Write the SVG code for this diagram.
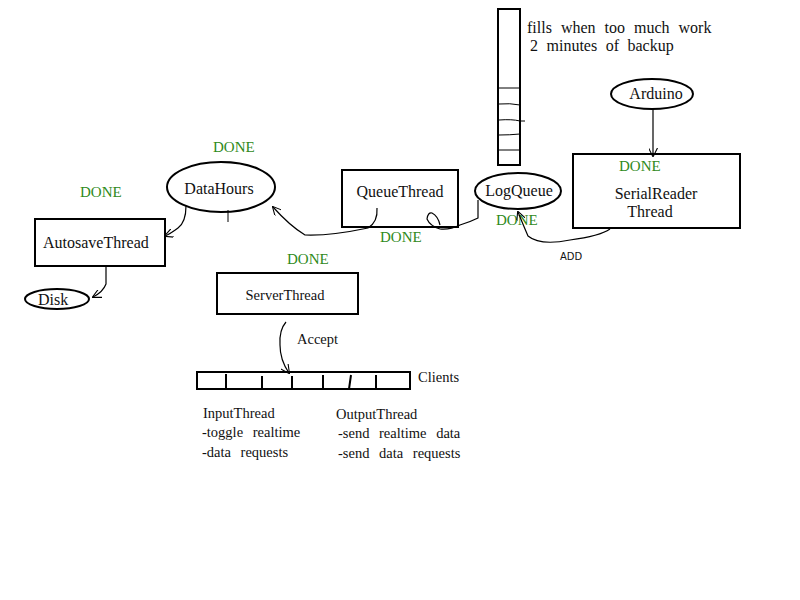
<svg xmlns="http://www.w3.org/2000/svg" width="800" height="600" viewBox="0 0 800 600" font-family="'Liberation Serif', 'DejaVu Serif', serif">
<defs>
<style>
text{font-family:'Liberation Serif','DejaVu Serif',serif;fill:#111;}
.t{font-size:16px;}
.s{font-size:14.5px;}
.done{font-size:15px;fill:#2f8a1a;}
.box{fill:#fff;stroke:#000;stroke-width:2;}
.ln{fill:none;stroke:#000;stroke-width:1.2;}
.thin{fill:none;stroke:#000;stroke-width:1;}
</style>
<marker id="ah" viewBox="0 0 10 10" refX="9" refY="5" markerWidth="9" markerHeight="9" orient="auto-start-reverse" markerUnits="userSpaceOnUse">
<path d="M0,0 L10,5 L0,10" fill="none" stroke="#000" stroke-width="1.2"/>
</marker>
</defs>
<rect width="800" height="600" fill="#fff"/>

<g id="queue-column">
<rect x="498" y="9" width="22" height="156" class="box"/>
<path d="M499,88 H520 M499,104 Q510,103 520,105 M499,120 Q512,119 520,121 H525 M499,135 Q510,135 520,134 M499,150 H520" class="thin"/>
<text x="527" y="33" class="t" word-spacing="5">fills when too much work</text>
<text x="530" y="51" class="t" word-spacing="4.5">2 minutes of backup</text>
</g>

<g id="arduino">
<ellipse cx="652" cy="94" rx="41" ry="15" class="box"/>
<text x="656" y="99" class="t" text-anchor="middle">Arduino</text>
</g>

<g id="serialreader">
<rect x="573" y="154" width="167" height="74" class="box"/>
<text x="619" y="171" class="done" font-size="16">DONE</text>
<text x="656" y="199" class="t" text-anchor="middle">SerialReader</text>
<text x="650" y="217" class="t" text-anchor="middle">Thread</text>
</g>

<g id="logqueue">
<ellipse cx="518" cy="191" rx="43" ry="18" class="box"/>
<text x="519" y="196" class="t" text-anchor="middle">LogQueue</text>
<text x="496" y="225" class="done" font-size="16.5">DONE</text>
</g>

<g id="queuethread">
<rect x="342" y="170" width="116" height="57" class="box"/>
<text x="400" y="197" class="t" text-anchor="middle">QueueThread</text>
<text x="380" y="242" class="done">DONE</text>
</g>

<g id="datahours">
<ellipse cx="221" cy="187" rx="54" ry="25" class="box"/>
<text x="219" y="194" class="t" text-anchor="middle">DataHours</text>
<text x="213" y="152" class="done">DONE</text>
</g>

<g id="autosave">
<rect x="35" y="219" width="130" height="47" class="box"/>
<text x="43" y="248" class="t">AutosaveThread</text>
<text x="80" y="197" class="done">DONE</text>
</g>

<g id="disk">
<ellipse cx="57" cy="299" rx="32" ry="10" class="box"/>
<text x="38" y="305" class="t">Disk</text>
</g>

<g id="serverthread">
<rect x="217" y="273" width="141" height="41" class="box"/>
<text x="285" y="300" class="s" text-anchor="middle">ServerThread</text>
<text x="287" y="264" class="done">DONE</text>
</g>

<g id="clients">
<rect x="197" y="372" width="213" height="17" class="box"/>
<path d="M226,374 V390 M262,376 V389 M292,376 V389 M323,375 V389 M351,375 L349,389 M376,375 V389" stroke="#000" stroke-width="2"/>
<text x="418" y="382" class="s">Clients</text>
<text x="203" y="418" class="s">InputThread</text>
<text x="202" y="437" class="s" word-spacing="6">-toggle realtime</text>
<text x="202" y="457" class="s" word-spacing="6">-data requests</text>
<text x="336" y="419" class="s">OutputThread</text>
<text x="338" y="438" class="s" word-spacing="6">-send realtime data</text>
<text x="338" y="458" class="s" word-spacing="6">-send data requests</text>
</g>

<g id="connectors">
<path d="M653,109 V156" class="ln" marker-end="url(#ah)"/>
<path d="M610,229 Q600,236 570,240 Q540,246 528,236 Q522,222 518,212" class="ln" marker-end="url(#ah)"/>
<text x="560" y="260" font-size="10" style="font-family:'DejaVu Sans',sans-serif">ADD</text>
<path d="M478,200 V218 Q470,222 460,225 Q450,230 440,229 Q430,226 427,219 Q428,212 432,213 Q438,216 440,225" class="ln"/>
<path d="M377,208 Q378,222 368,228 Q330,236 305,235 Q290,226 273,207" class="ln" marker-end="url(#ah)"/>
<path d="M186,206 Q186,222 178,228 Q170,234 165,236" class="ln" marker-end="url(#ah)"/>
<path d="M106,266 V284 Q103,292 93,297" class="ln" marker-end="url(#ah)"/>
<path d="M286,322 Q279,330 280,345 Q280,360 289,373" class="ln" marker-end="url(#ah)"/>
<text x="297" y="344" class="s">Accept</text>
<path d="M228,210 V222" stroke="#000" stroke-width="1"/>
</g>
</svg>
